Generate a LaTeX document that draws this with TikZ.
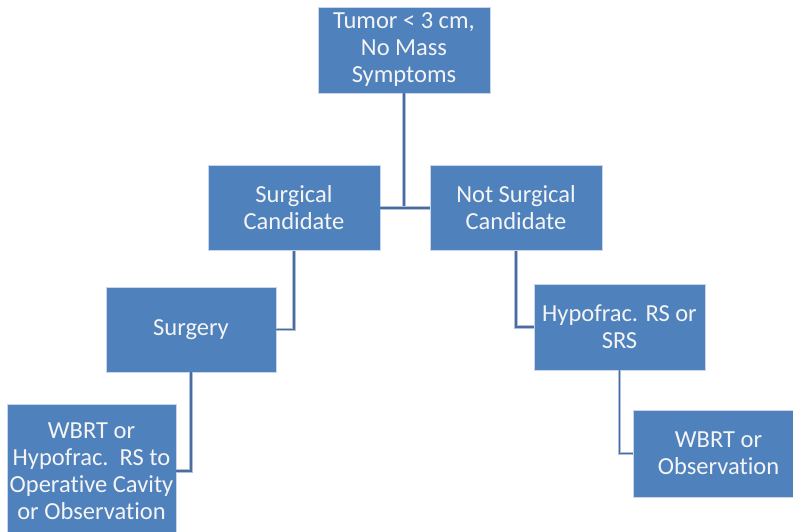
\documentclass[tikz,border=0pt]{standalone}
\usepackage{fontspec}
\setmainfont{Carlito}[Ligatures=NoCommon]
\definecolor{boxblue}{HTML}{4F81BD}
\definecolor{boxedge}{HTML}{C9D6EA}
\definecolor{linkdark}{HTML}{4A6C9E}
\definecolor{linkhalo}{HTML}{AFC1DA}
\definecolor{txt}{HTML}{F4F4F4}
\begin{document}
\begin{tikzpicture}[x=1pt,y=-1pt,
  box/.style={draw=boxedge,line width=0.7pt,fill=boxblue,text=txt,align=center,
    inner sep=0pt,font=\fontsize{24.5}{27}\selectfont},
  link/.style={draw=linkdark,line width=1.3pt,
    preaction={draw=linkhalo,line width=3.2pt}}]
\useasboundingbox[fill=white] (0,0) rectangle (793,532);
\node[box,minimum width=172pt,minimum height=86pt] (top) at (404,50) {Tumor < 3 cm,\\No Mass\\Symptoms};
\node[box,minimum width=172pt,minimum height=85pt] (surg) at (294,208) {Surgical\\Candidate};
\node[box,minimum width=172pt,minimum height=85pt] (nots) at (516,208) {Not Surgical\\Candidate};
\node[box,minimum width=170pt,minimum height=85pt] (surgery) at (191,329.5) {Surgery};
\node[box,minimum width=169pt,minimum height=134pt] (wbrt1) at (91.5,471) {WBRT or\\Hypofrac.\ \ RS to\\Operative Cavity\\or Observation};
\node[box,minimum width=171pt,minimum height=86pt] (hypo) at (619.5,327) {Hypofrac. RS or\\SRS};
\node[box,minimum width=171pt,minimum height=87pt] (wbrt2) at (718.5,453.5) {WBRT or\\Observation};
\coordinate (mid) at (top.south |- surg.east);
\draw[link] (top.south) -- (mid);
\draw[link] (surg.east) -- (nots.west);
\draw[link] (surg.south) |- (surgery.east);
\draw[link] (surgery.south) |- (wbrt1.east);
\draw[link] (nots.south) |- (hypo.west);
\draw[link] (hypo.south) |- (wbrt2.west);
\end{tikzpicture}
\end{document}
